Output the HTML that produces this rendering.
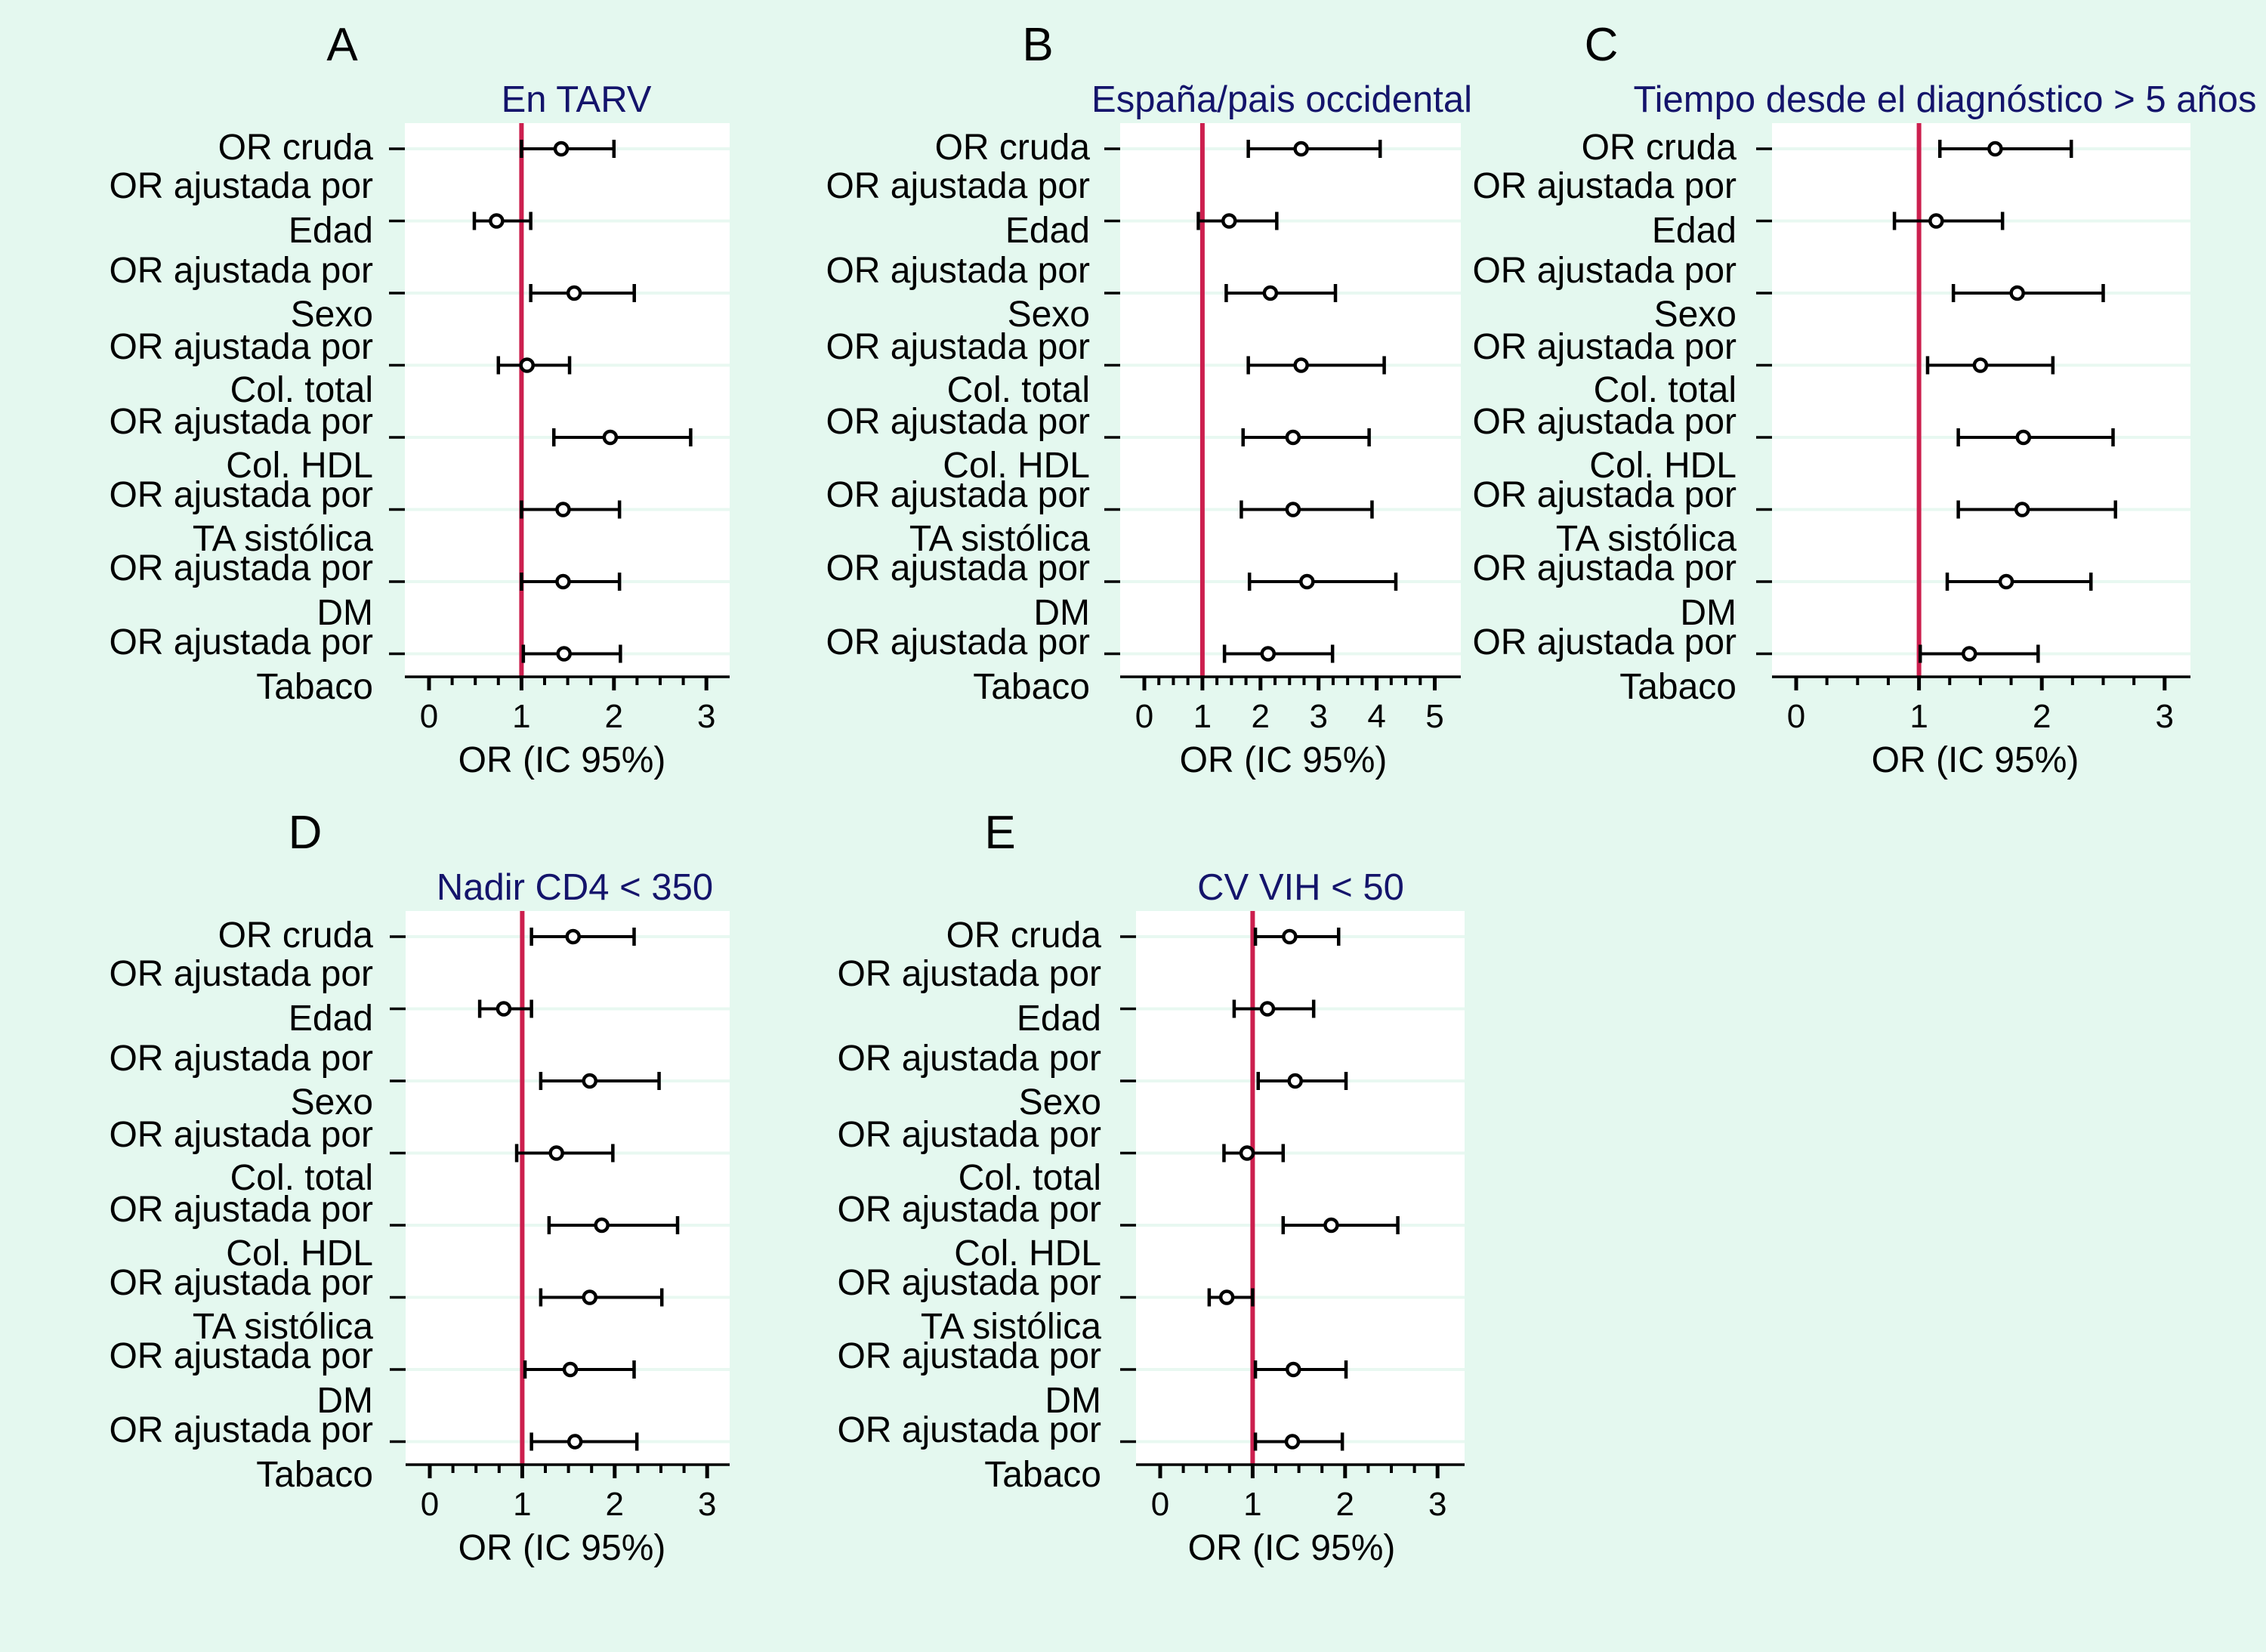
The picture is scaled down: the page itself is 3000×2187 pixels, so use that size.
<!DOCTYPE html>
<html><head><meta charset="utf-8"><style>
html,body{margin:0;padding:0;background:#e4f8ef;}
svg{display:block;font-family:"Liberation Sans",Arial,sans-serif;}
</style></head><body>
<svg id="fig" width="3000" height="2187" viewBox="0 0 3000 2187" xmlns="http://www.w3.org/2000/svg">
<rect x="0" y="0" width="3000" height="2187" fill="#e4f8ef"/>
</svg>
<script>
const rowLabels = ["OR cruda","OR ajustada por Edad","OR ajustada por Sexo","OR ajustada por Col. total","OR ajustada por Col. HDL","OR ajustada por TA sistólica","OR ajustada por DM","OR ajustada por Tabaco"];
const labelLines = ["OR cruda","OR ajustada por","Edad","OR ajustada por","Sexo","OR ajustada por","Col. total","OR ajustada por","Col. HDL","OR ajustada por","TA sistólica","OR ajustada por","DM","OR ajustada por","Tabaco"];
const panelLetters = ["A","B","C","D","E"];
const panelTitles = ["En TARV","España/pais occidental","Tiempo desde el diagnóstico > 5 años","Nadir CD4 < 350","CV VIH < 50"];
const ticksA = [0,1,2,3];
const ticksB = [0,1,2,3,4,5];
// panel A
const orA = [1.43,0.73,1.57,1.06,1.96,1.45,1.45,1.46];
const loA = [1.00,0.49,1.10,0.75,1.35,1.00,1.00,1.02];
const hiA = [2.00,1.10,2.22,1.52,2.83,2.06,2.06,2.07];
// panel B
const orB = [2.70,1.46,2.17,2.70,2.56,2.56,2.80,2.13];
const loB = [1.79,0.93,1.41,1.79,1.70,1.67,1.81,1.38];
const hiB = [4.06,2.28,3.29,4.13,3.87,3.92,4.33,3.24];
// panel C
const orC = [1.62,1.14,1.80,1.50,1.85,1.84,1.71,1.41];
const loC = [1.17,0.80,1.28,1.07,1.32,1.32,1.23,1.01];
const hiC = [2.24,1.68,2.50,2.09,2.58,2.60,2.40,1.97];
// panel D
const orD = [1.55,0.80,1.73,1.37,1.86,1.73,1.52,1.57];
const loD = [1.10,0.54,1.20,0.94,1.29,1.20,1.03,1.10];
const hiD = [2.21,1.10,2.48,1.98,2.68,2.51,2.21,2.24];
// panel E
const orE = [1.40,1.16,1.46,0.94,1.85,0.72,1.44,1.43];
const loE = [1.03,0.80,1.06,0.69,1.33,0.53,1.03,1.03];
const hiE = [1.93,1.66,2.01,1.33,2.57,1.00,2.01,1.97];

const NS="http://www.w3.org/2000/svg";
const svg=document.getElementById('fig');
function mk(tag,attrs,parent){const e=document.createElementNS(NS,tag);for(const k in attrs)e.setAttribute(k,attrs[k]);(parent||svg).appendChild(e);return e;}

const labelOffsets=[-3,48,107,160,218,261,318,360,418,457,515,554,613,652,711];
const panels=[
 {or:orA,lo:loA,hi:hiA,ticks:ticksA,x0:568,unit:122.4,bgL:536,bgR:966,labR:494,top:0,letterX:453,titleX:763,axTitleX:744},
 {or:orB,lo:loB,hi:hiB,ticks:ticksB,x0:1515,unit:76.9,bgL:1483,bgR:1934,labR:1443,top:0,letterX:1374,titleX:1697,axTitleX:1699},
 {or:orC,lo:loC,hi:hiC,ticks:ticksA,x0:2378,unit:162.6,bgL:2346,bgR:2900,labR:2299,top:0,letterX:2120,titleX:2575,axTitleX:2615},
 {or:orD,lo:loD,hi:hiD,ticks:ticksA,x0:569,unit:122.4,bgL:537,bgR:966,labR:494,top:1043,letterX:404,titleX:761,axTitleX:744},
 {or:orE,lo:loE,hi:hiE,ticks:ticksA,x0:1536,unit:122.4,bgL:1504,bgR:1939,labR:1458,top:1043,letterX:1324,titleX:1722,axTitleX:1710}
];
panels.forEach((p,pi)=>{
  const g=mk('g',{});
  
  
  const X=v=>p.x0+v*p.unit;
  const row1=197+p.top, step=95.5;
  const Y=i=>row1+i*step;
  const pTop=163+p.top, axY=896+p.top;
  const bg=mk('rect',{x:p.bgL,y:pTop,width:p.bgR-p.bgL,height:axY-pTop,fill:'#ffffff'},g);
  
  
  rowLabels.forEach((r,i)=>{
    const gl=mk('line',{x1:p.bgL,x2:p.bgR,y1:Y(i),y2:Y(i),stroke:'#e8f8f1','stroke-width':4},g);
    
    
    const t=mk('line',{x1:p.bgL-21,x2:p.bgL,y1:Y(i),y2:Y(i),stroke:'#000','stroke-width':3.5},g);
    
    
  });
  labelLines.forEach((s,k)=>{
    const t=mk('text',{x:p.labR,y:row1+labelOffsets[k]+17,'text-anchor':'end','font-size':48,fill:'#000'},g);
    t.textContent=s;
    
    
  });
  const rl=mk('line',{x1:X(1),x2:X(1),y1:pTop,y2:axY,stroke:'#cc1f4e','stroke-width':6},g);
  
  
  const ax=mk('line',{x1:p.bgL,x2:p.bgR,y1:axY,y2:axY,stroke:'#000','stroke-width':3.5},g);
  
  
  const maxT=p.ticks[p.ticks.length-1];
  for(let k=0;k<=maxT*4;k++){
    const v=k/4, major=(k%4===0);
    const tk=mk('line',{x1:X(v),x2:X(v),y1:axY,y2:axY+(major?18:11),stroke:'#000','stroke-width':major?5:4},g);
    
    
  }
  p.ticks.forEach(v=>{
    const t=mk('text',{x:X(v),y:axY+67,'text-anchor':'middle','font-size':44,fill:'#000'},g);
    t.textContent=String(v);
    
    
  });
  const at=mk('text',{x:p.axTitleX,y:axY+126,'text-anchor':'middle','font-size':48,fill:'#000'},g);
  at.textContent='OR (IC 95%)';
  
  
  const tt=mk('text',{x:p.titleX,y:148+p.top,'text-anchor':'middle','font-size':49,fill:'#14146b'},g);
  tt.textContent=panelTitles[pi];
  
  
  const lt=mk('text',{x:p.letterX,y:80+p.top,'text-anchor':'middle','font-size':62,fill:'#000'},g);
  lt.textContent=panelLetters[pi];
  
  
  p.or.forEach((v,i)=>{
    const y=Y(i);
    const eb=mk('line',{x1:X(p.lo[i]),x2:X(p.hi[i]),y1:y,y2:y,stroke:'#000','stroke-width':4},g);
    
    
    [p.lo[i],p.hi[i]].forEach(c=>{
      const cp=mk('line',{x1:X(c),x2:X(c),y1:y-12,y2:y+12,stroke:'#000','stroke-width':4.5},g);
      
      
    });
    const pt=mk('circle',{cx:X(v),cy:y,r:8,fill:'#fff',stroke:'#000','stroke-width':4.5},g);
    
    
  });
});
</script>
</body></html>
